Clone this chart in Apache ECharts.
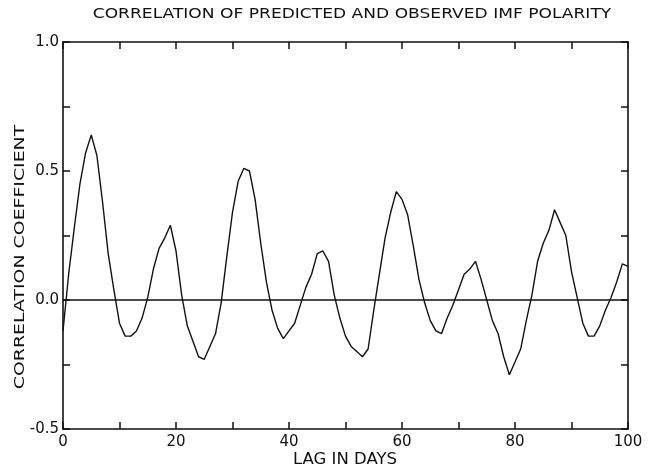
<!DOCTYPE html>
<html>
<head>
<meta charset="utf-8">
<script src="https://cdn.jsdelivr.net/npm/echarts@6/dist/echarts.min.js"></script>
<style>html,body{margin:0;padding:0;background:#fff}#c{width:655px;height:470px}</style>
</head>
<body>
<div id="c"></div>
<script>
const titleText = 'CORRELATION OF PREDICTED AND OBSERVED IMF POLARITY';
const xName = 'LAG IN DAYS';
const yName = 'CORRELATION COEFFICIENT';
const lags = Array.from({length: 101}, (_, i) => i);
const corr = [
  -0.12, 0.10, 0.28, 0.45, 0.57, 0.64, 0.56, 0.38, 0.18, 0.04,
  -0.09, -0.14, -0.14, -0.12, -0.07, 0.01, 0.12, 0.20, 0.24, 0.29,
  0.19, 0.02, -0.10, -0.16, -0.22, -0.23, -0.18, -0.13, -0.01, 0.17,
  0.34, 0.46, 0.51, 0.50, 0.39, 0.22, 0.07, -0.04, -0.11, -0.15,
  -0.12, -0.09, -0.02, 0.05, 0.10, 0.18, 0.19, 0.15, 0.02, -0.07,
  -0.14, -0.18, -0.20, -0.22, -0.19, -0.04, 0.10, 0.24, 0.34, 0.42,
  0.39, 0.33, 0.21, 0.08, -0.01, -0.08, -0.12, -0.13, -0.07, -0.02,
  0.04, 0.10, 0.12, 0.15, 0.08, 0.00, -0.08, -0.13, -0.22, -0.29,
  -0.24, -0.19, -0.08, 0.02, 0.15, 0.22, 0.27, 0.35, 0.30, 0.25,
  0.11, 0.01, -0.09, -0.14, -0.14, -0.10, -0.04, 0.01, 0.07, 0.14,
  0.13
];
const xTickLabels = [0, 20, 40, 60, 80, 100];
const yTickLabels = [-0.5, 0.0, 0.5, 1.0];

const chart = echarts.init(document.getElementById('c'), null, {renderer: 'canvas'});
const font = 'DejaVu Sans';
const ink = '#111';
const axisCommon = {
  axisLine: {show: true, onZero: false, lineStyle: {color: ink, width: 1.6}},
  axisTick: {show: true, inside: true, length: 7, lineStyle: {color: ink, width: 1.5}},
  splitLine: {show: false}
};
function label(text, x, y, size, sx, rot) {
  return {
    type: 'text', x: x, y: y, rotation: rot || 0, scaleX: sx, scaleY: 1, silent: true,
    style: {
      text: text, fontFamily: font, fontSize: size, fill: ink,
      align: 'center', verticalAlign: 'middle',
      textAlign: 'center', textVerticalAlign: 'middle'
    }
  };
}
chart.setOption({
  backgroundColor: '#fff',
  animation: false,
  graphic: [
    label(titleText, 352, 14.5, 14, 1.22, 0),
    label(xName, 345, 460, 15, 1.1, 0),
    label(yName, 20, 257, 14, 1.35, Math.PI / 2)
  ],
  grid: {left: 63, right: 27, top: 42, bottom: 41},
  xAxis: [
    Object.assign({
      type: 'value', min: 0, max: 100, interval: 10, position: 'bottom',
      axisLabel: {
        fontFamily: font, fontSize: 15, color: ink, margin: 6,
        formatter: v => xTickLabels.includes(v) ? String(v) : ''
      }
    }, axisCommon),
    Object.assign({
      type: 'value', min: 0, max: 100, interval: 10, position: 'top',
      axisLabel: {show: false}
    }, axisCommon)
  ],
  yAxis: [
    Object.assign({
      type: 'value', min: -0.5, max: 1.0, interval: 0.25, position: 'left',
      axisLabel: {
        fontFamily: font, fontSize: 15, color: ink, margin: 4,
        formatter: v => {
          const m = yTickLabels.find(t => Math.abs(t - v) < 1e-9);
          return m === undefined ? '' : m.toFixed(1);
        }
      }
    }, axisCommon),
    Object.assign({
      type: 'value', min: -0.5, max: 1.0, interval: 0.25, position: 'right',
      axisLabel: {show: false}
    }, axisCommon)
  ],
  series: [{
    type: 'line',
    data: lags.map((l, i) => [l, corr[i]]),
    showSymbol: false,
    lineStyle: {color: ink, width: 1.4},
    markLine: {
      silent: true, symbol: 'none', label: {show: false},
      lineStyle: {color: ink, width: 1.6, type: 'solid'},
      data: [{yAxis: 0}]
    }
  }]
});
</script>
</body>
</html>
